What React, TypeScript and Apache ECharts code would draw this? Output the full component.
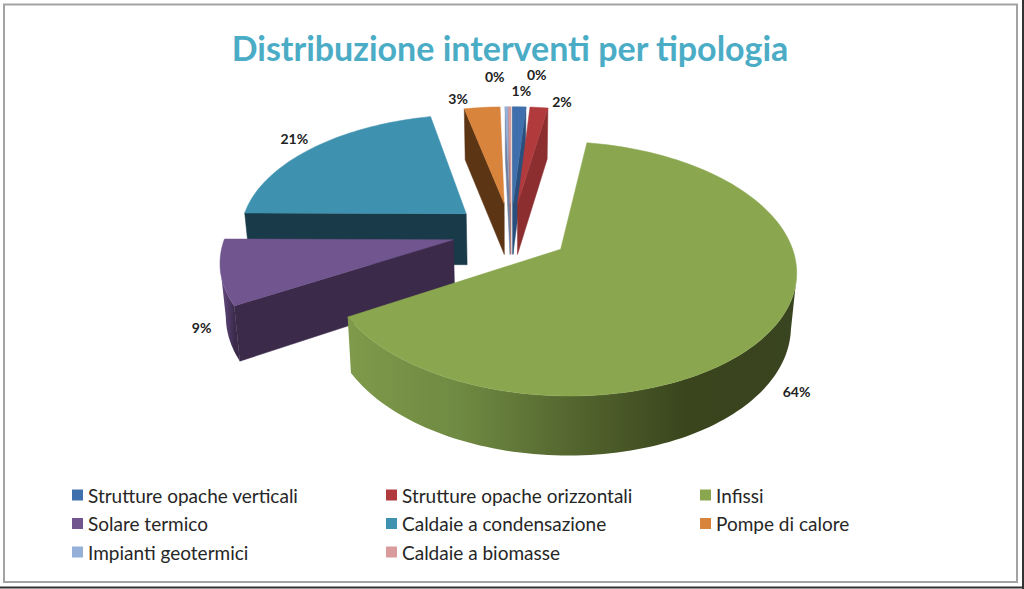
import React, { useEffect, useRef } from "react";
import * as echarts from "echarts";

const titleText = "Distribuzione interventi per tipologia";
const categories = [
  "Strutture opache verticali",
  "Strutture opache orizzontali",
  "Infissi",
  "Solare termico",
  "Caldaie a condensazione",
  "Pompe di calore",
  "Impianti geotermici",
  "Caldaie a biomasse",
];
// percentages (labels show them rounded)
const values = [1.1, 1.5, 64.0, 8.5, 21.49, 3.0, 0.25, 0.16];

const topColors = ["#3f70ad", "#b03a3c", "#8aa64e", "#70558f", "#3e92b0", "#d9843c", "#95b0d8", "#d99b9b"];
const wallColors = ["#2b4f7c", "#8c2e30", "#3a451d", "#3b2a4a", "#193a48", "#5c3515", "#6b80a0", "#a87070"];
const rimStops: (string[] | null)[] = [
  null,
  null,
  ["#7f9a4a", "#6f8a42", "#54662f", "#3a451d", "#394420"],
  ["#6b5088", "#5a4272", "#4a3660", "#3b2a4a", "#3b2a4a"],
  null,
  null,
  null,
  null,
];
const legendColumns = [
  [0, 3, 6],
  [1, 4, 7],
  [2, 5],
];
const legendLeft = [72, 386, 700];
const drawOrder = [5, 6, 7, 0, 1, 4, 3, 2];
const labelNudge: [number, number][] = [
  [2, -16],
  [23, -6],
  [22, 65],
  [-19, 55],
  [-18, -10],
  [-24, -9],
  [-12, -30],
  [27, -32],
];

const CX = 511, CY = 232, RX = 227, RY = 119, K = 0.15, EX = 0.26, EY = 0.25;
const total = values.reduce((a, b) => a + b, 0);
const rad = (d: number) => (d * Math.PI) / 180;

function sliceAngles(i: number) {
  let s = 0;
  for (let j = 0; j < i; j++) s += values[j];
  return [(s / total) * 360, ((s + values[i]) / total) * 360];
}
function project(X: number, Y: number) {
  const S = 1 / (1 - K * Y);
  return [CX + RX * X * S, CY + RY * Y * S];
}
function drop(p: number[], Y: number) {
  return [CX + (p[0] - CX) * 0.98, p[1] + 51 + Math.max(0, Y) * 7.5];
}

function buildSlice(i: number) {
  const [a0, a1] = sliceAngles(i);
  const mid = rad((a0 + a1) / 2);
  const ox = EX * Math.sin(mid);
  const oy = -EY * Math.cos(mid);
  const rim = (deg: number) => [ox + Math.sin(rad(deg)), oy - Math.cos(rad(deg))];
  const apexTop = project(ox, oy);
  const apexBot = drop(apexTop, oy);
  const steps = Math.max(2, Math.ceil((a1 - a0) / 1.5));
  const topPts: number[][] = [apexTop];
  const rimTop: number[][] = [];
  const rimBot: number[][] = [];
  const VY = 1 / K;
  for (let s = 0; s <= steps; s++) {
    const d = a0 + ((a1 - a0) * s) / steps;
    const [X, Y] = rim(d);
    const p = project(X, Y);
    topPts.push(p);
    const nx = Math.sin(rad(d));
    const ny = -Math.cos(rad(d));
    if (nx * (0 - X) + ny * (VY - Y) > 0) {
      rimTop.push(p);
      rimBot.unshift(drop(p, Y));
    }
  }
  const children: any[] = [];
  const wall = (deg: number, outerSign: number) => {
    const [X, Y] = rim(deg);
    const nx = Math.cos(rad(deg)) * outerSign;
    const ny = Math.sin(rad(deg)) * outerSign;
    if (nx * (0 - ox) + ny * (VY - oy) > 0) {
      const p = project(X, Y);
      children.push({
        type: "polygon",
        shape: { points: [apexTop, p, drop(p, Y), apexBot] },
        style: { fill: wallColors[i], stroke: wallColors[i], lineWidth: 0.5 },
      });
    }
  };
  wall(a0, -1);
  wall(a1, 1);
  if (rimTop.length > 1) {
    const stops = rimStops[i];
    const fill = stops
      ? new echarts.graphic.LinearGradient(
          0, 0, 1, 0,
          stops.map((color, k) => ({ offset: k / (stops.length - 1), color }))
        )
      : wallColors[i];
    children.push({
      type: "polygon",
      shape: { points: rimTop.concat(rimBot) },
      style: { fill },
    });
  }
  children.push({
    type: "polygon",
    shape: { points: topPts },
    style: { fill: topColors[i], stroke: topColors[i], lineWidth: 0.5 },
  });
  const [mx, my] = rim((a0 + a1) / 2);
  const lp = project(mx, my);
  children.push({
    type: "text",
    z2: 50,
    style: {
      x: lp[0] + labelNudge[i][0],
      y: lp[1] + labelNudge[i][1],
      text: `${Math.round(values[i])}%`,
      fill: "#222222",
      font: "bold 14px Lato, sans-serif",
      align: "center",
      verticalAlign: "middle",
    },
  });
  return { type: "group", children };
}

export default function App() {
  const ref = useRef<HTMLDivElement>(null);
  useEffect(() => {
    document.body.style.margin = "0";
    const chart = echarts.init(ref.current!, undefined, { renderer: "svg" });
    chart.setOption({
      animation: false,
      backgroundColor: "#ffffff",
      title: {
        text: titleText,
        left: 510,
        top: 30,
        padding: 0,
        textAlign: "center",
        textStyle: {
          color: "#4bacc6",
          fontFamily: "Lato, sans-serif",
          fontWeight: "bold",
          fontSize: 34,
        },
      },
      legend: legendColumns.map((col, c) => ({
        orient: "vertical",
        left: legendLeft[c],
        top: 485,
        padding: 0,
        itemWidth: 11,
        itemHeight: 11,
        itemGap: 8.5,
        icon: "rect",
        selectedMode: false,
        data: col.map((k) => categories[k]),
        textStyle: {
          color: "#262626",
          fontFamily: "Lato, sans-serif",
          fontSize: 19,
          lineHeight: 20,
        },
      })),
      graphic: [
        {
          type: "rect",
          silent: true,
          shape: { x: 4, y: 4.5, width: 1013, height: 577.5 },
          style: { fill: "none", stroke: "#a3a3a3", lineWidth: 2 },
        },
        { type: "line", silent: true, shape: { x1: 0, y1: 587.5, x2: 1024, y2: 587.5 }, style: { stroke: "#333333", lineWidth: 2 } },
        { type: "line", silent: true, shape: { x1: 1023, y1: 0, x2: 1023, y2: 589 }, style: { stroke: "#333333", lineWidth: 2 } },
      ],
      series: categories.map((name, i) => ({
        type: "custom",
        name,
        coordinateSystem: "none",
        clip: false,
        silent: true,
        z: 2 + drawOrder.indexOf(i),
        itemStyle: { color: topColors[i] },
        data: [values[i]],
        renderItem: () => buildSlice(i),
      })),
    });
    return () => chart.dispose();
  }, []);
  return <div ref={ref} style={{ width: 1024, height: 589 }} />;
}
